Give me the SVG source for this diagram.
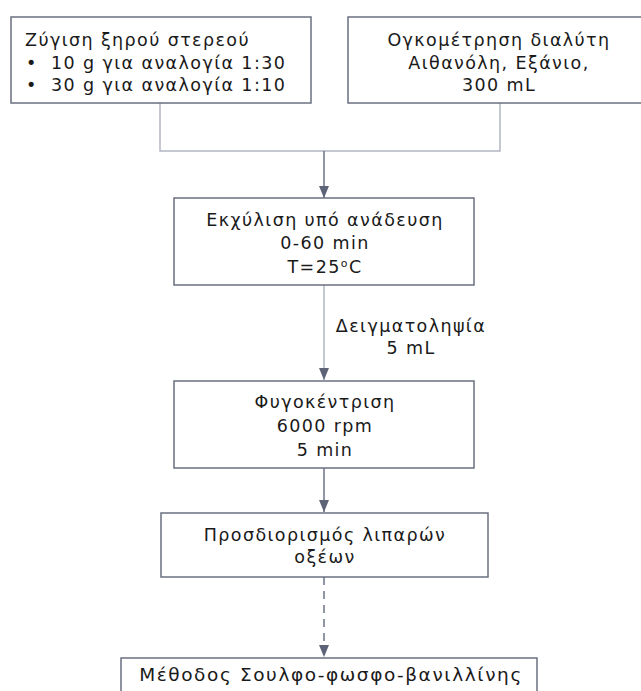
<svg xmlns="http://www.w3.org/2000/svg" width="641" height="691" viewBox="0 0 641 691">
<style>
.box{fill:#ffffff;stroke:#6b7080;stroke-width:1.5}
.t{font-family:"DejaVu Sans",Verdana,sans-serif;font-size:17.5px;letter-spacing:1.4px;fill:#1a1a1a}
.c{text-anchor:middle}
.big{font-size:18.5px;letter-spacing:1.6px}
.lt{fill:none;stroke:#b3b6c2;stroke-width:1.5}
.dk{fill:none;stroke:#6e7487;stroke-width:1.5}
</style>
<defs>
<marker id="ah" markerWidth="12" markerHeight="10" refX="12" refY="5" orient="auto" markerUnits="userSpaceOnUse">
<path d="M0,0 L12,5 L0,10 z" fill="#5e6478"/>
</marker>
</defs>
<rect width="641" height="691" fill="#ffffff"/>
<g id="connectors">
<polyline class="lt" points="160,103 160,151 500,151 500,103"/>
<line class="dk" x1="324" y1="151" x2="324" y2="198" marker-end="url(#ah)"/>
<line class="lt" x1="324" y1="285" x2="324" y2="380" marker-end="url(#ah)"/>
<line class="dk" x1="324" y1="468" x2="324" y2="512" marker-end="url(#ah)"/>
<line class="dk" x1="324" y1="577" x2="324" y2="657" stroke-dasharray="8 6" marker-end="url(#ah)"/>
<text class="t c" x="411" y="332">Δειγματοληψία</text>
<text class="t c" x="411" y="354">5 mL</text>
</g>
<g id="n1">
<rect class="box" x="11" y="17" width="300" height="86"/>
<text class="t" x="25" y="46">Ζύγιση ξηρού στερεού</text>
<text class="t" x="26" y="68.5">•</text>
<text class="t" x="51" y="68.5">10 g για αναλογία 1:30</text>
<text class="t" x="26" y="91">•</text>
<text class="t" x="51" y="91">30 g για αναλογία 1:10</text>
</g>
<g id="n2">
<rect class="box" x="348" y="17" width="304" height="86"/>
<text class="t c" x="499" y="46">Ογκομέτρηση διαλύτη</text>
<text class="t c" x="499" y="68.5">Αιθανόλη, Εξάνιο,</text>
<text class="t c" x="499" y="91">300 mL</text>
</g>
<g id="n3">
<rect class="box" x="174" y="198" width="300" height="87"/>
<text class="t c" x="325" y="226">Εκχύλιση υπό ανάδευση</text>
<text class="t c" x="325" y="248.5">0-60 min</text>
<text class="t c" x="325" y="273">T=25<tspan font-size="11" dy="-6">o</tspan><tspan dy="6">C</tspan></text>
</g>
<g id="n4">
<rect class="box" x="174" y="381" width="300" height="87"/>
<text class="t c" x="325" y="408">Φυγοκέντριση</text>
<text class="t c" x="325" y="431.5">6000 rpm</text>
<text class="t c" x="325" y="455.5">5 min</text>
</g>
<g id="n5">
<rect class="box" x="161" y="513" width="327" height="64"/>
<text class="t c" x="325" y="541">Προσδιορισμός λιπαρών</text>
<text class="t c" x="325" y="563">οξέων</text>
</g>
<g id="n6">
<rect class="box" x="121" y="658" width="416" height="60"/>
<text class="t c big" x="331" y="681">Μέθοδος Σουλφο-φωσφο-βανιλλίνης</text>
</g>
</svg>
